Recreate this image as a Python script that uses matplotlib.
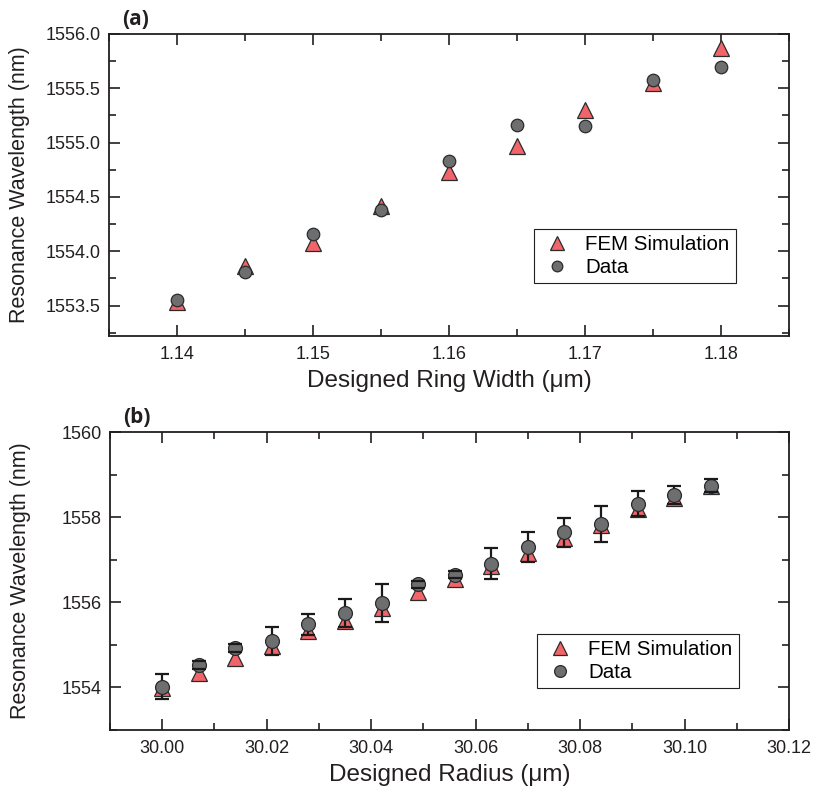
import numpy as np
import matplotlib.pyplot as plt
from matplotlib.ticker import MultipleLocator, FormatStrFormatter

plt.rcParams['font.family'] = ['Liberation Sans', 'DejaVu Sans']

# panel (a): ring width sweep
width_um = [1.140, 1.145, 1.150, 1.155, 1.160, 1.165, 1.170, 1.175, 1.180]
fem_a = [1553.53, 1553.86, 1554.08, 1554.42, 1554.73, 1554.97, 1555.30, 1555.55, 1555.87]
data_a = [1553.555, 1553.81, 1554.16, 1554.38, 1554.83, 1555.16, 1555.15, 1555.58, 1555.70]

# panel (b): radius sweep
radius_um = [30.000, 30.007, 30.014, 30.021, 30.028, 30.035, 30.042, 30.049,
             30.056, 30.063, 30.070, 30.077, 30.084, 30.091, 30.098, 30.105]
fem_b = [1553.98, 1554.35, 1554.68, 1554.98, 1555.33, 1555.56, 1555.87, 1556.23,
         1556.54, 1556.85, 1557.16, 1557.51, 1557.82, 1558.19, 1558.45, 1558.72]
data_b = [1554.02, 1554.53, 1554.93, 1555.09, 1555.48, 1555.74, 1555.99, 1556.42,
          1556.65, 1556.91, 1557.30, 1557.64, 1557.84, 1558.32, 1558.52, 1558.74]
err_b = [0.29, 0.10, 0.10, 0.34, 0.25, 0.33, 0.45, 0.08,
         0.08, 0.37, 0.35, 0.35, 0.42, 0.30, 0.22, 0.15]

red = '#f0646a'
gray = '#6d6e70'
edge = '#2b2b2b'
txt = '#231f20'


def style_axes(ax):
    for s in ax.spines.values():
        s.set_linewidth(1.3)
        s.set_color(txt)
    ax.tick_params(which='both', direction='in', top=True, right=True,
                   colors=txt, labelsize=13, width=1.2)
    ax.tick_params(which='major', length=8)
    ax.tick_params(which='minor', length=5)
    ax.tick_params(axis='x', pad=7)
    ax.tick_params(axis='y', pad=6)


def add_legend(ax, anchor):
    leg = ax.legend(loc='upper left', bbox_to_anchor=anchor, borderaxespad=0,
                    fontsize=14.8, frameon=True, fancybox=False, edgecolor=txt,
                    borderpad=0.3, handletextpad=0.6, handlelength=1.6,
                    labelspacing=0.2, markerscale=0.85, framealpha=1)
    leg.get_frame().set_linewidth(0.8)
    return leg


fig = plt.figure(figsize=(8.16, 7.95), dpi=100)

ax1 = fig.add_axes([0.1336, 0.5774, 0.8333, 0.3799])
ax1.plot(width_um, fem_a, linestyle='none', marker='^', ms=12, mfc=red, mec=edge,
         mew=0.9, label='FEM Simulation', zorder=3)
ax1.plot(width_um, data_a, linestyle='none', marker='o', ms=9, mfc=gray, mec=edge,
         mew=0.9, label='Data', zorder=4)
ax1.set_xlim(1.135, 1.185)
ax1.set_ylim(1553.22, 1556.0)
ax1.xaxis.set_major_locator(MultipleLocator(0.01))
ax1.xaxis.set_minor_locator(MultipleLocator(0.005))
ax1.yaxis.set_major_locator(MultipleLocator(0.5))
ax1.yaxis.set_minor_locator(MultipleLocator(0.25))
ax1.xaxis.set_major_formatter(FormatStrFormatter('%.2f'))
ax1.yaxis.set_major_formatter(FormatStrFormatter('%.1f'))
style_axes(ax1)
ax1.set_xlabel('Designed Ring Width (\u03bcm)', fontsize=17.5, color=txt, labelpad=5)
ax1.set_ylabel('Resonance Wavelength (nm)', fontsize=15.5, color=txt, labelpad=11)
add_legend(ax1, (0.625, 0.354))
ax1.text(0.019, 1.013, '(a)', transform=ax1.transAxes, fontsize=15,
         fontweight='bold', color=txt, ha='left', va='bottom',
         family=['Open Sans', 'DejaVu Sans'])

ax2 = fig.add_axes([0.1348, 0.0818, 0.8321, 0.3748])
ax2.plot(radius_um, fem_b, linestyle='none', marker='^', ms=12, mfc=red, mec=edge,
         mew=0.9, label='FEM Simulation', zorder=2)
eb = ax2.errorbar(radius_um, data_b, yerr=err_b, fmt='none', ecolor='#1a1a1a',
                  elinewidth=1.6, capsize=5, capthick=1.6, zorder=2.5)
for cap in eb[1]:
    cap.set_zorder(5)
ax2.plot(radius_um, data_b, linestyle='none', marker='o', ms=10, mfc=gray, mec=edge,
         mew=0.9, label='Data', zorder=4)
ax2.set_xlim(29.99, 30.12)
ax2.set_ylim(1553, 1560)
ax2.set_yticks([1554, 1556, 1558, 1560])
ax2.set_yticks([1553, 1555, 1557, 1559], minor=True)
ax2.xaxis.set_major_locator(MultipleLocator(0.02))
ax2.xaxis.set_minor_locator(MultipleLocator(0.01))
ax2.xaxis.set_major_formatter(FormatStrFormatter('%.2f'))
ax2.yaxis.set_major_formatter(FormatStrFormatter('%d'))
style_axes(ax2)
ax2.set_xlabel('Designed Radius (\u03bcm)', fontsize=17.5, color=txt, labelpad=5)
ax2.set_ylabel('Resonance Wavelength (nm)', fontsize=15.5, color=txt, labelpad=22)
add_legend(ax2, (0.629, 0.322))
ax2.text(0.019, 1.013, '(b)', transform=ax2.transAxes, fontsize=15,
         fontweight='bold', color=txt, ha='left', va='bottom',
         family=['Open Sans', 'DejaVu Sans'])

fig.savefig('out.png', dpi=100)
